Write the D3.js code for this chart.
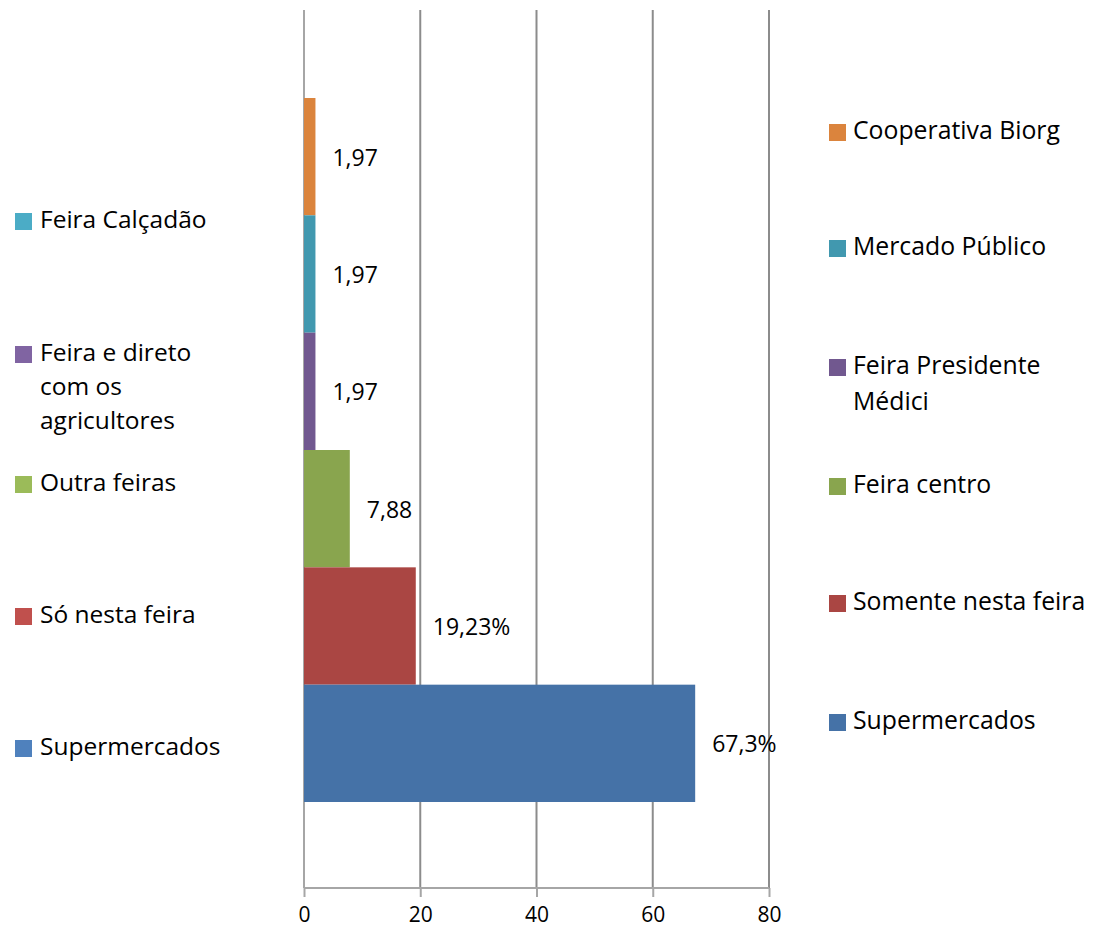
<!DOCTYPE html>
<html><head><meta charset="utf-8">
<script src="https://cdn.jsdelivr.net/npm/d3@7"></script>
<style>body{margin:0;background:#fff;} text{font-family:"Open Sans",sans-serif;fill:#000;}</style>
</head><body>
<svg id="c" width="1094" height="936"></svg>
<script>
const categories = ["Cooperativa Biorg","Mercado Público","Feira Presidente Médici","Feira centro","Somente nesta feira","Supermercados"];
const values = [1.97, 1.97, 1.97, 7.88, 19.23, 67.3];
const valueLabels = ["1,97","1,97","1,97","7,88","19,23%","67,3%"];
const barColors = ["#DB843D","#4198AF","#71588F","#89A54E","#AA4643","#4572A7"];
const rightLegendLines = [["Cooperativa Biorg"],["Mercado Público"],["Feira Presidente","Médici"],["Feira centro"],["Somente nesta feira"],["Supermercados"]];
const leftLegendLines = [["Feira Calçadão"],["Feira e direto","com os","agricultores"],["Outra feiras"],["Só nesta feira"],["Supermercados"]];
const leftLegendColors = ["#4BACC6","#8064A2","#9BBB59","#C0504D","#4F81BD"];
const xTicks = [0,20,40,60,80];

const svg = d3.select("#c");
const x = d3.scaleLinear().domain([0,80]).range([304,769]);
const y = d3.scaleBand().domain(categories).range([98,802]).padding(0);
const plotTop = 10, plotBottom = 888;

// gridlines
svg.append("g").selectAll("line").data(xTicks).join("line")
  .attr("x1",d=>x(d)).attr("x2",d=>x(d)).attr("y1",plotTop).attr("y2",plotBottom)
  .attr("stroke",d=>d===0?"#a6a6a6":"#8c8c8c").attr("stroke-width",2);

// bars
svg.append("g").selectAll("rect").data(categories).join("rect")
  .attr("x",x(0)).attr("y",d=>y(d)).attr("height",y.bandwidth())
  .attr("width",(d,i)=>x(values[i])-x(0)).attr("fill",(d,i)=>barColors[i]);

// value labels
svg.append("g").selectAll("text").data(categories).join("text")
  .attr("x",(d,i)=>x(values[i])+17).attr("y",d=>y(d)+y.bandwidth()/2+3)
  .attr("dominant-baseline","middle").attr("font-size",23)
  .text((d,i)=>valueLabels[i]);

// x axis
const axis = d3.axisBottom(x).tickValues(xTicks).tickSize(9).tickPadding(10);
const ag = svg.append("g").attr("transform",`translate(0,${plotBottom})`).call(axis);
ag.select(".domain").attr("stroke","#a6a6a6").attr("stroke-width",2).attr("d",`M${x(0)},0H${x(80)}`);
ag.selectAll(".tick line").attr("stroke","#a6a6a6").attr("stroke-width",2);
ag.selectAll(".tick text").attr("font-family","Open Sans").attr("font-size",21).attr("fill","#000");

// left legend
const leftY = [221, 354, 484, 616, 748];
const lg = svg.append("g").selectAll("g").data(leftLegendLines).join("g");
lg.append("rect").attr("x",15).attr("y",(d,i)=>leftY[i]-8).attr("width",17).attr("height",17).attr("fill",(d,i)=>leftLegendColors[i]);
lg.each(function(lines,i){
  const t=d3.select(this).append("text").attr("font-size",24.5).attr("x",40);
  lines.forEach((l,j)=>t.append("tspan").attr("x",40).attr("y",leftY[i]+j*34).attr("dominant-baseline","middle").text(l));
});

// right legend
const rightY = [132, 248, 367, 486, 603, 722];
const rg = svg.append("g").selectAll("g").data(rightLegendLines).join("g");
rg.append("rect").attr("x",829).attr("y",(d,i)=>rightY[i]-8).attr("width",17).attr("height",17).attr("fill",(d,i)=>barColors[i]);
rg.each(function(lines,i){
  const t=d3.select(this).append("text").attr("font-size",24.8);
  lines.forEach((l,j)=>t.append("tspan").attr("x",853).attr("y",rightY[i]+j*36).attr("dominant-baseline","middle").text(l));
});
</script>
</body></html>
